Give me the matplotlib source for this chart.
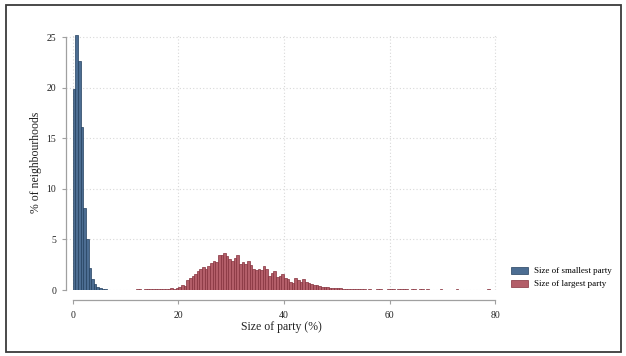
import numpy as np
import matplotlib
matplotlib.use('Agg')
import matplotlib.pyplot as plt
from matplotlib.patches import Rectangle

# histogram bins are 0.5 percentage points wide
bin_width = 0.5

# size of smallest party, bins starting at 0
small_start = 0.0
small_pct = [19.9, 25.2, 22.6, 16.1, 8.1, 5.0, 2.2, 1.1, 0.6, 0.3, 0.15, 0.1, 0.05]

# size of largest party, bins starting at 12
large_start = 12.0
large_pct = [
    # 12 - 19.5
    0.05, 0.05, 0, 0.05, 0.05, 0.05, 0.05, 0.05, 0.05, 0.1, 0.1, 0.05, 0.1, 0.2, 0.1, 0.15,
    # 20 - 30.5
    0.3, 0.45, 0.4, 1.0, 1.2, 1.4, 1.55, 1.9, 2.1, 2.3, 2.1, 2.4, 2.7, 2.9, 2.75, 3.45,
    3.45, 3.65, 3.4, 3.05, 2.9, 3.2,
    # 31 - 43.5
    3.45, 2.55, 2.75, 2.55, 2.9, 2.45, 2.1, 2.0, 2.1, 2.0, 2.4, 2.1, 1.4, 1.7, 1.9, 1.3,
    1.35, 1.6, 1.2, 1.05, 0.75, 0.65, 1.2, 0.95, 0.75, 1.1,
    # 44 - 49.5
    0.8, 0.7, 0.6, 0.5, 0.45, 0.35, 0.3, 0.3, 0.25, 0.2, 0.2, 0.2,
    # 50 - 54.5
    0.15, 0.15, 0.1, 0.1, 0.1, 0.1, 0.1, 0.05, 0.05, 0.1,
    # 55 - 78.5
    0.05, 0, 0.05, 0, 0, 0.05, 0.05, 0, 0, 0.05, 0.05, 0.05, 0, 0.05, 0.05, 0.05,
    0.05, 0, 0.05, 0.05, 0, 0.05, 0.05, 0, 0.05, 0, 0, 0, 0, 0.05, 0, 0,
    0, 0, 0, 0.05, 0, 0, 0, 0, 0, 0, 0, 0, 0, 0, 0, 0.05,
]

series_labels = ['Size of smallest party', 'Size of largest party']
x_ticks = [0, 20, 40, 60, 80]
y_ticks = [0, 5, 10, 15, 20, 25]

plt.rcParams['font.family'] = ['Liberation Serif', 'DejaVu Serif']

W, H = 626, 356
fig = plt.figure(figsize=(W / 100, H / 100), dpi=100)
fig.patch.set_facecolor('white')
ax = fig.add_axes([66 / W, (H - 290) / H, (496.7 - 66) / W, 256 / H])

def draw(start, values, face, edge, label):
    values = np.array(values, dtype=float)
    lefts = start + bin_width * np.arange(len(values))
    keep = values > 0
    return ax.bar(lefts[keep], values[keep], width=bin_width, align='edge',
                  color=face, edgecolor=edge, linewidth=0.5, label=label, zorder=3)

b1 = draw(small_start, small_pct, '#4c6d92', '#23405f', series_labels[0])
b2 = draw(large_start, large_pct, '#b35e69', '#85313c', series_labels[1])

ax.set_xlim(-1.27, 80.3)
ax.set_ylim(0, 25.3)
ax.set_xticks(x_ticks)
ax.set_yticks(y_ticks)
ax.grid(True, linestyle=(0, (1, 2)), color='#d8d8d8', linewidth=0.8, zorder=0)

for s in ['top', 'right']:
    ax.spines[s].set_visible(False)
ax.spines['bottom'].set_position(('outward', 7))
ax.spines['bottom'].set_bounds(0, 80)
ax.spines['left'].set_bounds(0, 25)
for s in ['bottom', 'left']:
    ax.spines[s].set_color('#a0a0a0')
    ax.spines[s].set_linewidth(0.9)
ax.tick_params(axis='both', colors='#a0a0a0', labelcolor='#222222', labelsize=7,
               length=3, width=0.8)
ax.tick_params(axis='x', pad=5)
ax.tick_params(axis='y', pad=4)

ax.set_xlabel('Size of party (%)', fontsize=8.5, color='#222222', labelpad=1)
ax.set_ylabel('% of neighbourhoods', fontsize=8.5, color='#222222', labelpad=3)

fig.legend(handles=[b1, b2], labels=series_labels, loc='upper left',
           bbox_to_anchor=(507 / W, (H - 263) / H), frameon=False, fontsize=6.5,
           handlelength=1.9, handleheight=0.9, handletextpad=0.7, labelspacing=0.45,
           borderaxespad=0)

# outer frame around the whole picture
fig.add_artist(Rectangle((6 / W, 4 / H), 615 / W, 347 / H, transform=fig.transFigure,
                         fill=False, edgecolor='#3a3a3a', linewidth=1.3))

fig.savefig('out.png', dpi=100)
